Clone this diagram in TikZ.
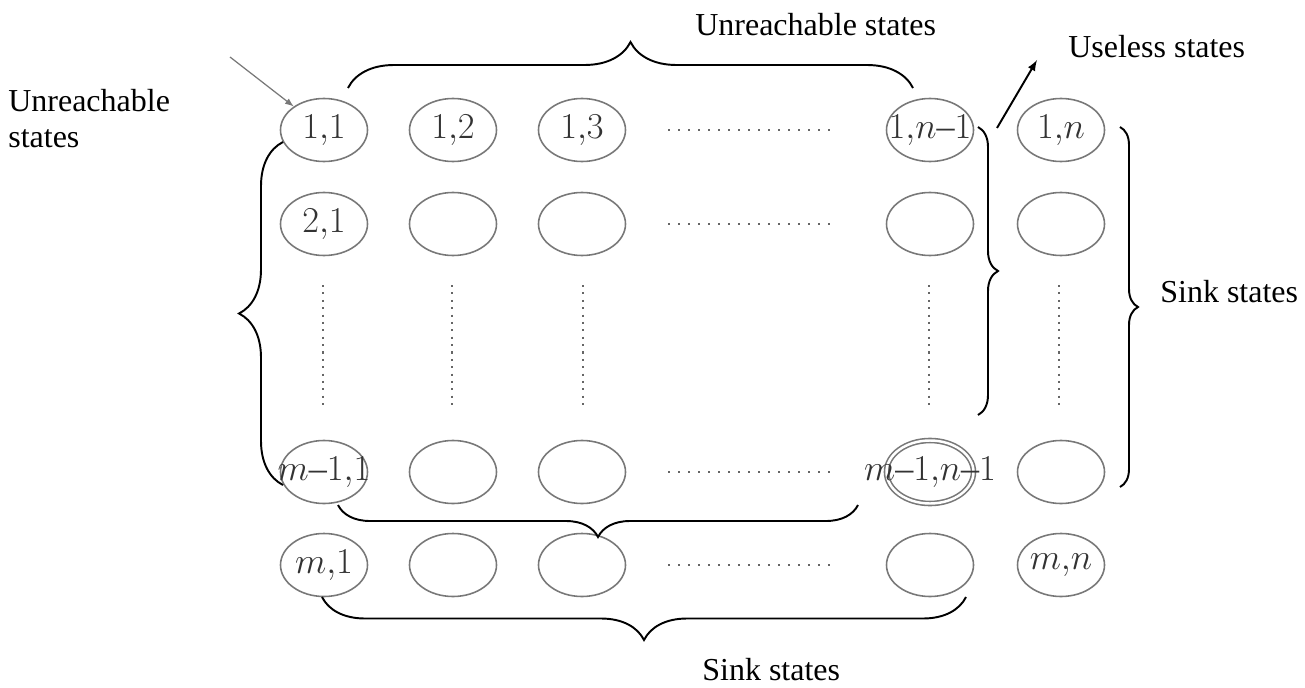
\documentclass[tikz,border=0pt]{standalone}
\usepackage{fontspec}
\setmainfont{Liberation Serif}
\usetikzlibrary{shapes.geometric,decorations.pathreplacing}
\definecolor{stategray}{RGB}{120,120,120}
\newcommand{\zust}[1]{\makebox[0pt]{$#1$}}
\newcommand{\strich}{\mbox{--}}

\begin{document}
\begin{tikzpicture}[x=0.2mm, y=-0.2mm,
		>=latex,   %Pfeilspitzen
		state/.style={ellipse, draw=stategray, line width=0.9pt, minimum width=17.4mm, minimum height=12.6mm, inner sep=0pt, text=black!80, font=\fontsize{20.5}{20.5}\selectfont},
		accept/.style={state, double, double distance=1.4pt},
		klammer/.style={decorate, decoration={brace, amplitude=#1}, line width=1.1pt},
		punkte/.style={black!60, line width=1.2pt, dash pattern=on 1.2pt off #1},
		txt/.style={inner sep=0pt, font=\fontsize{18.2}{20.5}\selectfont}]
		\fill[white] (0,0) rectangle (1305,688);
		\useasboundingbox (0,0) rectangle (1305,688);
		% Zustaende, erste Zeile
		\node[state] (q11) at (324,130) {\zust{1{,}1}};
		\node[state] (q12) at (453,130) {\zust{1{,}2}};
		\node[state] (q13) at (582,130) {\zust{1{,}3}};
		\node[state] (q1n1) at (930,130) {\zust{1{,}n\strich1}};
		\node[state] (q1n) at (1061,130) {\zust{1{,}n}};
		% zweite Zeile
		\node[state] (q21) at (324,224) {\zust{2{,}1}};
		\foreach \x/\j in {453/2,582/3,930/4,1061/5} \node[state] (q2\j) at (\x,224) {};
		% Zeile m-1
		\node[state] (qm11) at (324,472) {\zust{m\strich1{,}1}};
		\node[state] (qm12) at (453,472) {};
		\node[state] (qm13) at (582,472) {};
		\node[accept] (qm1n1) at (930,472) {\zust{m\strich1{,}n\strich1}};
		\node[state] (qm1n) at (1061,472) {};
		% Zeile m
		\node[state] (qm1) at (324,565) {\zust{m{,}1}};
		\foreach \x/\j in {453/2,582/3,930/4} \node[state] (qm\j) at (\x,565) {};
		\node[state] (qmn) at (1061,565) {\zust{m{,}n}};
		% Punkte
		\foreach \y in {130,224,472,565} \draw[punkte=4.5pt] (668,\y) -- (835,\y);
		\foreach \x in {323,452,583,929,1059} \draw[punkte=3pt] (\x,285) -- (\x,405);
		% Startpfeil
		\coordinate (start) at (230,57);
		\draw[->, stategray, line width=0.7pt] (start) -- (q11);
		% Klammern
		\draw[klammer=9.2mm] (348,88) -- (913,88);
		\draw[klammer=8.8mm] (283,485) -- (283,142);
		\draw[klammer=6.4mm] (858,505) -- (338,505);
		\draw[klammer=8.6mm] (966,597) -- (322,597);
		\draw[klammer=4mm] (978,127) -- (978,415);
		\draw[klammer=3.6mm] (1120,127) -- (1120,487);
		% Beschriftung
		\node[txt, anchor=base west] (oben) at (695,36) {Unreachable states};
		\node[txt, align=left, anchor=north west] (links) at (8,89) {Unreachable\\states};
		\node[txt, anchor=base west] (nutzlos) at (1068,58) {Useless states};
		\node[txt, anchor=base west] (rechts) at (1160,302) {Sink states};
		\node[txt, anchor=base west] (unten) at (702,680) {Sink states};
		\coordinate (u0) at (997,128);
		\coordinate (u1) at (1037,60);
		\draw[->, line width=1.1pt] (u0) -- (u1);
	\end{tikzpicture}
\end{document}
